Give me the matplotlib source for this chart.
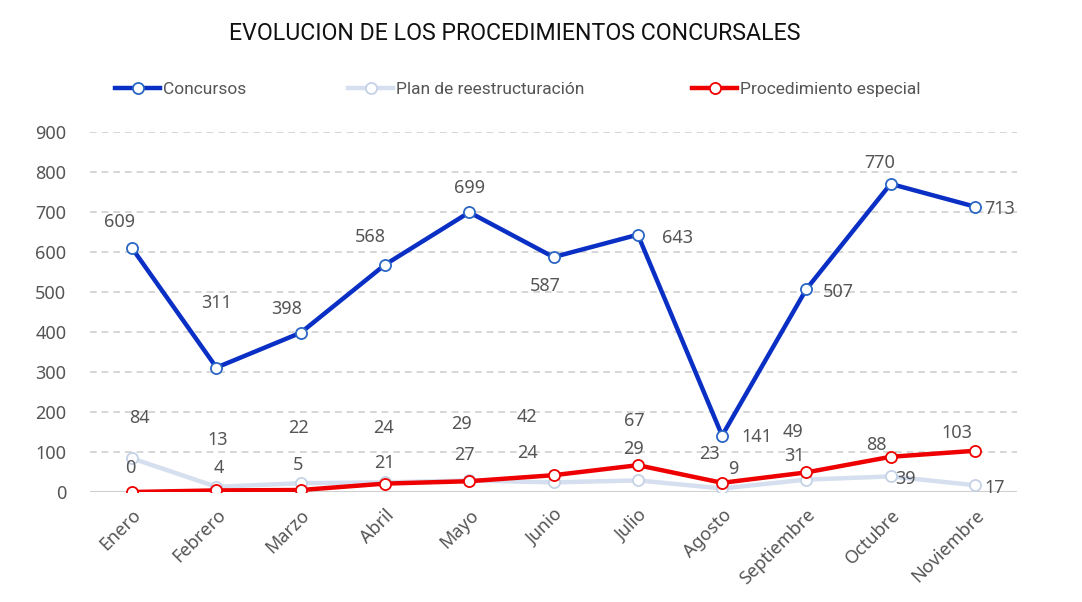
import matplotlib
matplotlib.use("Agg")
import matplotlib.pyplot as plt
from matplotlib.lines import Line2D

# datos
meses = ["Enero", "Febrero", "Marzo", "Abril", "Mayo", "Junio", "Julio",
         "Agosto", "Septiembre", "Octubre", "Noviembre"]
concursos = [609, 311, 398, 568, 699, 587, 643, 141, 507, 770, 713]
plan = [84, 13, 22, 24, 29, 24, 29, 9, 31, 39, 17]
especial = [0, 4, 5, 21, 27, 42, 67, 23, 49, 88, 103]
series_nombres = ["Concursos", "Plan de reestructuración", "Procedimiento especial"]

# desplazamiento de las etiquetas (pixeles)
off_concursos = [(-13, 26), (0, 65), (-14, 24), (-15, 28), (0, 24), (-8, -29),
                 (40, -3), (35, -1), (32, -3), (-11, 21), (25, -2)]
off_plan = [(7, 40), (1, 47), (-2, 55), (-1, 54), (-8, 56), (-26, 29),
            (-4, 31), (11, 19), (-12, 24), (15, -3), (20, -3)]
off_especial = [(-2, 24), (2, 22), (-3, 25), (-1, 21), (-5, 26), (-27, 58),
                (-4, 44), (-13, 29), (-13, 40), (-14, 12), (-18, 18)]

c_azul = "#0a2fc4"
c_claro = "#d5dfef"
c_rojo = "#ee0000"
gris_txt = "#555555"
fuente = "Noto Sans"

fig = plt.figure(figsize=(10.82, 6.02), dpi=100)
ax = fig.add_axes([0.0832, 0.1827, 0.8568, 0.5983])

x = list(range(len(meses)))

ax.plot(x, plan, color=c_claro, lw=3.2, marker="o", ms=8, mfc="white",
        mec="#c5d2e6", mew=1.3, zorder=3)
ax.plot(x, especial, color=c_rojo, lw=3.2, marker="o", ms=8, mfc="white",
        mec=c_rojo, mew=1.3, zorder=4)
ax.plot(x, concursos, color=c_azul, lw=3.2, marker="o", ms=8, mfc="white",
        mec="#2a66c4", mew=1.3, zorder=5)

for serie, offs in [(concursos, off_concursos), (plan, off_plan), (especial, off_especial)]:
    for i, v in enumerate(serie):
        ax.annotate(str(v), (i, v), xytext=offs[i], textcoords="offset pixels",
                    ha="center", va="center", fontsize=13, color=gris_txt,
                    family=fuente, zorder=6)

ax.set_xlim(-0.5, 10.5)
ax.set_ylim(0, 900)
ax.set_yticks(range(0, 1000, 100))
ax.set_xticks(x)
ax.set_xticklabels(meses, rotation=45, ha="right", rotation_mode="anchor",
                   fontsize=13, color=gris_txt, family=fuente)
for t in ax.get_yticklabels():
    t.set_fontsize(13)
    t.set_color(gris_txt)
    t.set_family(fuente)
ax.tick_params(axis="y", length=0, pad=17)
ax.tick_params(axis="x", length=0, pad=10)

for v in range(100, 1000, 100):
    ax.axhline(v, color="#d0d0d0", lw=1.2, ls=(0, (4, 3)), zorder=1)
ax.axhline(0, color="#d0d0d0", lw=1.5, zorder=1)
for s in ax.spines.values():
    s.set_visible(False)

fig.text(0.476, 0.945, "EVOLUCION DE LOS PROCEDIMIENTOS CONCURSALES",
         ha="center", va="center", fontsize=16.7, color="#111111", family="Roboto")

# leyenda: una entrada por serie, cada una en su sitio
estilos = [(c_azul, "#2a66c4"), (c_claro, "#c5d2e6"), (c_rojo, c_rojo)]
x_leyenda = [115 / 1082, 348 / 1082, 692 / 1082]
for nombre, (col, borde), xl in zip(series_nombres, estilos, x_leyenda):
    h = Line2D([], [], color=col, lw=3.2, marker="o", ms=8, mfc="white", mec=borde, mew=1.3)
    leg = fig.legend([h], [nombre], loc="center left", bbox_to_anchor=(xl, 0.851),
                     frameon=False, borderpad=0, borderaxespad=0,
                     handlelength=2.6, handletextpad=0.15,
                     prop={"family": "Roboto", "size": 12.5})
    for t in leg.get_texts():
        t.set_color(gris_txt)

fig.savefig("out.png", dpi=100)
